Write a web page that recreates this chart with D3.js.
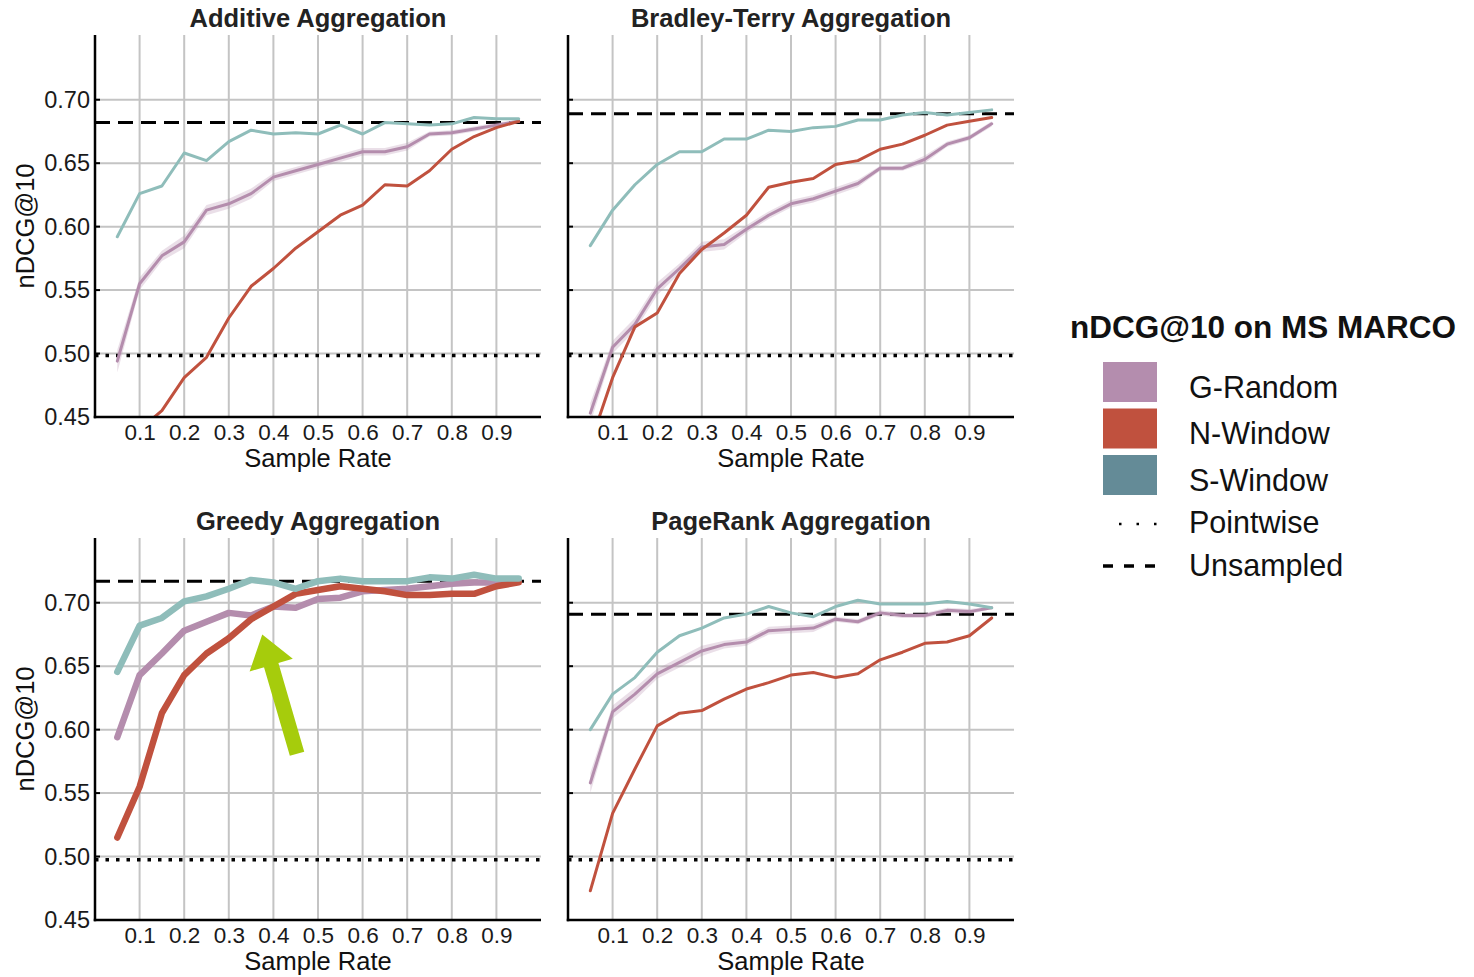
<!DOCTYPE html>
<html>
<head>
<meta charset="utf-8">
<script src="https://cdn.jsdelivr.net/npm/d3@7"></script>
<style>
  body { margin: 0; background: #fff; }
  svg { font-family: "Liberation Sans", Arial, sans-serif; }
</style>
</head>
<body>
<svg id="chart" width="1474" height="977"></svg>
<script>
// sample rates on the x axis
const rates = [0.05, 0.1, 0.15, 0.2, 0.25, 0.3, 0.35, 0.4, 0.45, 0.5, 0.55, 0.6, 0.65, 0.7, 0.75, 0.8, 0.85, 0.9, 0.95];
const xTicks = [0.1, 0.2, 0.3, 0.4, 0.5, 0.6, 0.7, 0.8, 0.9];
const xTickLabels = ['0.1', '0.2', '0.3', '0.4', '0.5', '0.6', '0.7', '0.8', '0.9'];
const yTicks = [0.45, 0.5, 0.55, 0.6, 0.65, 0.7];
const yTickLabels = ['0.45', '0.50', '0.55', '0.60', '0.65', '0.70'];

const panelTitles = ['Additive Aggregation', 'Bradley-Terry Aggregation', 'Greedy Aggregation', 'PageRank Aggregation'];
const seriesNames = ['G-Random', 'N-Window', 'S-Window'];

// Additive
const additiveG = [0.494, 0.555, 0.577, 0.588, 0.613, 0.618, 0.626, 0.639, 0.644, 0.649, 0.654, 0.659, 0.659, 0.663, 0.673, 0.674, 0.677, 0.680, 0.683];
const additiveGci = [0.009, 0.005, 0.004, 0.005, 0.004, 0.004, 0.004, 0.003, 0.003, 0.003, 0.003, 0.003, 0.003, 0.003, 0.002, 0.002, 0.002, 0.002, 0.001];
const additiveN = [0.415, 0.440, 0.455, 0.481, 0.497, 0.528, 0.553, 0.567, 0.583, 0.596, 0.609, 0.617, 0.633, 0.632, 0.644, 0.661, 0.671, 0.678, 0.683];
const additiveS = [0.592, 0.626, 0.632, 0.658, 0.652, 0.667, 0.676, 0.673, 0.674, 0.673, 0.680, 0.673, 0.682, 0.681, 0.680, 0.681, 0.686, 0.685, 0.685];

// Bradley-Terry
const bradleyG = [0.453, 0.505, 0.523, 0.551, 0.567, 0.584, 0.586, 0.598, 0.609, 0.618, 0.622, 0.628, 0.634, 0.646, 0.646, 0.653, 0.665, 0.670, 0.681];
const bradleyGci = [0.008, 0.005, 0.005, 0.005, 0.004, 0.004, 0.004, 0.003, 0.003, 0.003, 0.003, 0.003, 0.003, 0.002, 0.002, 0.003, 0.002, 0.002, 0.002];
const bradleyN = [0.429, 0.481, 0.521, 0.532, 0.563, 0.582, 0.595, 0.609, 0.631, 0.635, 0.638, 0.649, 0.652, 0.661, 0.665, 0.672, 0.680, 0.683, 0.686];
const bradleyS = [0.585, 0.613, 0.633, 0.649, 0.659, 0.659, 0.669, 0.669, 0.676, 0.675, 0.678, 0.679, 0.684, 0.684, 0.688, 0.690, 0.688, 0.690, 0.692];

// Greedy
const greedyG = [0.594, 0.643, 0.660, 0.678, 0.685, 0.692, 0.690, 0.697, 0.696, 0.703, 0.704, 0.709, 0.710, 0.711, 0.713, 0.715, 0.716, 0.716, 0.717];
const greedyGci = [0.003, 0.002, 0.002, 0.002, 0.002, 0.002, 0.002, 0.002, 0.002, 0.001, 0.001, 0.001, 0.001, 0.001, 0.001, 0.001, 0.001, 0.001, 0.001];
const greedyN = [0.515, 0.555, 0.613, 0.643, 0.660, 0.672, 0.687, 0.697, 0.707, 0.710, 0.713, 0.711, 0.709, 0.706, 0.706, 0.707, 0.707, 0.713, 0.716];
const greedyS = [0.6455, 0.682, 0.688, 0.701, 0.705, 0.711, 0.718, 0.716, 0.711, 0.717, 0.719, 0.717, 0.717, 0.717, 0.720, 0.719, 0.722, 0.719, 0.719];

// PageRank
const pagerankG = [0.558, 0.614, 0.628, 0.644, 0.653, 0.662, 0.667, 0.669, 0.678, 0.679, 0.680, 0.687, 0.685, 0.692, 0.690, 0.690, 0.694, 0.693, 0.696];
const pagerankGci = [0.008, 0.005, 0.005, 0.004, 0.004, 0.004, 0.003, 0.003, 0.003, 0.003, 0.003, 0.002, 0.002, 0.002, 0.002, 0.002, 0.002, 0.002, 0.001];
const pagerankN = [0.473, 0.534, 0.569, 0.603, 0.613, 0.615, 0.624, 0.632, 0.637, 0.643, 0.645, 0.641, 0.644, 0.655, 0.661, 0.668, 0.669, 0.674, 0.688];
const pagerankS = [0.600, 0.628, 0.641, 0.661, 0.674, 0.680, 0.688, 0.691, 0.697, 0.692, 0.689, 0.697, 0.702, 0.699, 0.699, 0.699, 0.701, 0.699, 0.696];

// horizontal references per panel
const unsampled = [0.682, 0.689, 0.717, 0.691];
const pointwise = [0.4985, 0.4985, 0.4975, 0.4975];

// green arrow in the Greedy panel: [rate, nDCG]
const arrowTail = [0.453, 0.581];
const arrowTip = [0.375, 0.675];

const lineColors = { 'G-Random': '#b48dad', 'N-Window': '#c0513e', 'S-Window': '#8fbdba' };
const swatchColors = ['#b48dae', '#c0513e', '#648b97'];

const panels = [
  { title: panelTitles[0], left: 95, top: 35, G: additiveG, ci: additiveGci, N: additiveN, S: additiveS, width: 3 },
  { title: panelTitles[1], left: 568, top: 35, G: bradleyG, ci: bradleyGci, N: bradleyN, S: bradleyS, width: 3 },
  { title: panelTitles[2], left: 95, top: 538, G: greedyG, ci: greedyGci, N: greedyN, S: greedyS, width: 6.5 },
  { title: panelTitles[3], left: 568, top: 538, G: pagerankG, ci: pagerankGci, N: pagerankN, S: pagerankS, width: 3 }
];

const W = 446, H = 382;
const FONT = '"Liberation Sans", Arial, sans-serif';
const svg = d3.select('#chart');
const x = d3.scaleLinear().domain([0, 1]).range([0, W]);
const y = d3.scaleLinear().domain([0.45, 0.751]).range([H, 0]);

panels.forEach((p, i) => {
  const g = svg.append('g').attr('transform', `translate(${p.left},${p.top})`);

  g.append('clipPath').attr('id', 'clip' + i)
    .append('rect').attr('x', 0).attr('y', 0).attr('width', W).attr('height', H);

  // grid
  g.append('g').selectAll('line').data(xTicks).join('line')
    .attr('x1', d => x(d)).attr('x2', d => x(d)).attr('y1', 0).attr('y2', H)
    .attr('stroke', '#c4c4c4').attr('stroke-width', 2);
  g.append('g').selectAll('line').data(yTicks.slice(1)).join('line')
    .attr('x1', 0).attr('x2', W).attr('y1', d => y(d)).attr('y2', d => y(d))
    .attr('stroke', '#c4c4c4').attr('stroke-width', 2);

  const plot = g.append('g').attr('clip-path', `url(#clip${i})`);

  // reference lines
  plot.append('line')
    .attr('x1', 0).attr('x2', W).attr('y1', y(pointwise[i])).attr('y2', y(pointwise[i]))
    .attr('stroke', '#000').attr('stroke-width', 3.5).attr('stroke-dasharray', '3.5,7');
  plot.append('line')
    .attr('x1', 0).attr('x2', W).attr('y1', y(unsampled[i])).attr('y2', y(unsampled[i]))
    .attr('stroke', '#000').attr('stroke-width', 3).attr('stroke-dasharray', '15,8');

  // G-Random band
  const band = d3.area()
    .x((d, k) => x(rates[k]))
    .y0((d, k) => y(d - p.ci[k]))
    .y1((d, k) => y(d + p.ci[k]));
  plot.append('path').datum(p.G).attr('d', band)
    .attr('fill', '#b48dad').attr('fill-opacity', 0.28);

  const line = d3.line().x((d, k) => x(rates[k])).y(d => y(d));
  [['G-Random', p.G], ['N-Window', p.N], ['S-Window', p.S]].forEach(([name, vals]) => {
    plot.append('path').datum(vals).attr('d', line)
      .attr('fill', 'none').attr('stroke', lineColors[name])
      .attr('stroke-width', p.width)
      .attr('stroke-linejoin', 'round').attr('stroke-linecap', 'round');
  });

  // axes
  g.append('line').attr('x1', 0).attr('x2', 0).attr('y1', 0).attr('y2', H + 1.25)
    .attr('stroke', '#000').attr('stroke-width', 2.5);
  g.append('line').attr('x1', -1.25).attr('x2', W).attr('y1', H).attr('y2', H)
    .attr('stroke', '#000').attr('stroke-width', 2.5);
  g.append('g').selectAll('line').data(yTicks).join('line')
    .attr('x1', 0).attr('x2', 5).attr('y1', d => y(d)).attr('y2', d => y(d))
    .attr('stroke', '#000').attr('stroke-width', 2);

  const xAxis = g.append('g').attr('transform', `translate(0,${H})`)
    .call(d3.axisBottom(x).tickValues(xTicks).tickSize(0).tickPadding(7)
      .tickFormat((d, k) => xTickLabels[k]));
  xAxis.select('.domain').remove();
  xAxis.selectAll('text').attr('font-size', 22.5).attr('fill', '#1a1a1a')
    .attr('font-family', FONT);

  // only the left column carries y tick labels
  if (i % 2 === 0) {
    const yAxis = g.append('g')
      .call(d3.axisLeft(y).tickValues(yTicks).tickSize(0).tickPadding(5)
        .tickFormat((d, k) => yTickLabels[k]));
    yAxis.select('.domain').remove();
    yAxis.selectAll('text').attr('font-size', 23.5).attr('fill', '#1a1a1a')
      .attr('font-family', FONT);

    g.append('text')
      .attr('transform', `translate(${-61},${H / 2}) rotate(-90)`)
      .attr('text-anchor', 'middle').attr('font-size', 25.5).attr('fill', '#111')
      .text('nDCG@10');
  }

  g.append('text').attr('x', W / 2).attr('y', H + 50)
    .attr('text-anchor', 'middle').attr('font-size', 25.5).attr('fill', '#111')
    .text('Sample Rate');

  g.append('text').attr('x', W / 2).attr('y', -8)
    .attr('text-anchor', 'middle').attr('font-size', 25.5).attr('font-weight', 'bold')
    .attr('fill', '#222').text(p.title);

  // annotation arrow for the Greedy panel
  if (i === 2) {
    const tx = x(arrowTail[0]), ty = y(arrowTail[1]);
    const hx = x(arrowTip[0]), hy = y(arrowTip[1]);
    const len = Math.hypot(hx - tx, hy - ty);
    const ang = Math.atan2(hy - ty, hx - tx) * 180 / Math.PI;
    const headLen = 32, shaft = 7.5, head = 22.5;
    const pts = [[0, -shaft], [len - headLen, -shaft], [len - headLen, -head], [len, 0],
                 [len - headLen, head], [len - headLen, shaft], [0, shaft]];
    g.append('polygon')
      .attr('points', pts.map(d => d.join(',')).join(' '))
      .attr('transform', `translate(${tx},${ty}) rotate(${ang})`)
      .attr('fill', '#a6cc0c');
  }
});

// legend
const legend = svg.append('g').attr('transform', 'translate(1070,0)');
legend.append('text').attr('x', 0).attr('y', 338)
  .attr('font-size', 31.5).attr('font-weight', 'bold').attr('fill', '#111')
  .text('nDCG@10 on MS MARCO');

seriesNames.forEach((name, k) => {
  legend.append('rect').attr('x', 33).attr('y', 362 + k * 46.5)
    .attr('width', 54).attr('height', 40).attr('fill', swatchColors[k]);
  legend.append('text').attr('x', 119).attr('y', 397.5 + k * 46.5)
    .attr('font-size', 30.5).attr('fill', '#111').text(name);
});

legend.append('line').attr('x1', 49).attr('x2', 87).attr('y1', 524).attr('y2', 524)
  .attr('stroke', '#000').attr('stroke-width', 2.5).attr('stroke-dasharray', '2.5,15');
legend.append('text').attr('x', 119).attr('y', 533)
  .attr('font-size', 30.5).attr('fill', '#111').text('Pointwise');

legend.append('line').attr('x1', 33).attr('x2', 87).attr('y1', 566).attr('y2', 566)
  .attr('stroke', '#000').attr('stroke-width', 3.5).attr('stroke-dasharray', '10,11');
legend.append('text').attr('x', 119).attr('y', 576)
  .attr('font-size', 30.5).attr('fill', '#111').text('Unsampled');
</script>
</body>
</html>
